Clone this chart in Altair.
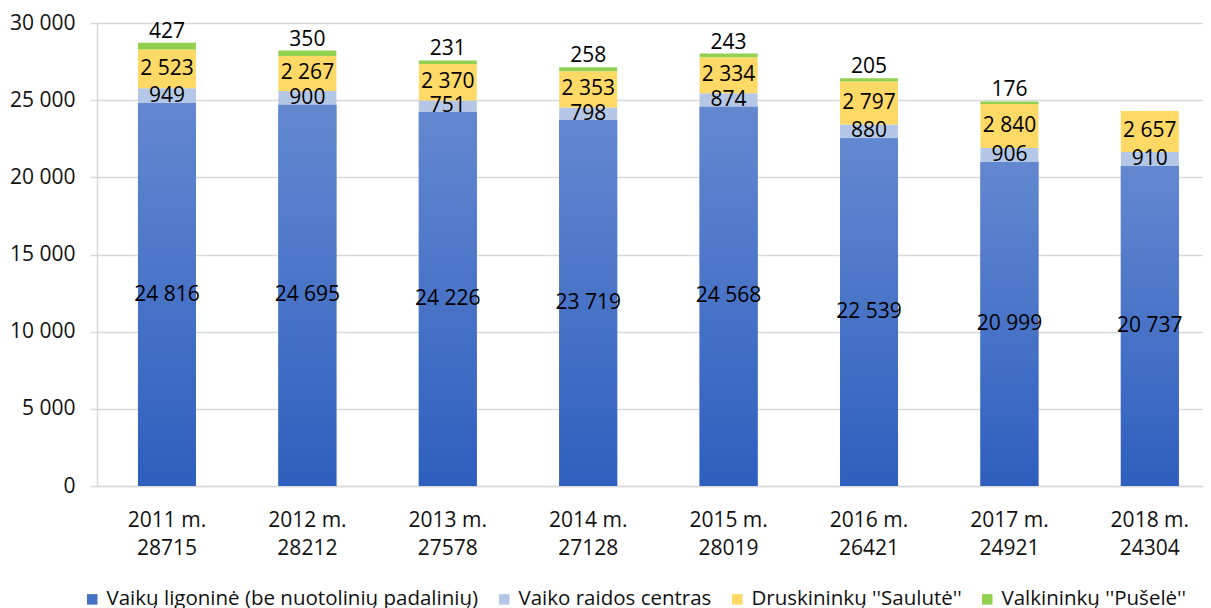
import altair as alt
import pandas as pd

years = ["2011 m.", "2012 m.", "2013 m.", "2014 m.", "2015 m.", "2016 m.", "2017 m.", "2018 m."]
totals = [28715, 28212, 27578, 27128, 28019, 26421, 24921, 24304]
series = [
    "Vaikų ligoninė (be nuotolinių padalinių)",
    "Vaiko raidos centras",
    "Druskininkų ''Saulutė''",
    "Valkininkų ''Pušelė''",
]
ligonine = [24816, 24695, 24226, 23719, 24568, 22539, 20999, 20737]
raidos = [949, 900, 751, 798, 874, 880, 906, 910]
druskininku = [2523, 2267, 2370, 2353, 2334, 2797, 2840, 2657]
valkininku = [427, 350, 231, 258, 243, 205, 176, None]
colors = ["#4472C4", "#B4C7E7", "#FFD966", "#92D050"]

cats = [f"{y}|{t}" for y, t in zip(years, totals)]
rows = []
for i, c in enumerate(cats):
    for k, vals in enumerate([ligonine, raidos, druskininku, valkininku]):
        v = vals[i]
        if v is None:
            continue
        rows.append({"cat": c, "series": series[k], "order": k, "value": v})
df = pd.DataFrame(rows)

FONT = "Open Sans"

x = alt.X(
    "cat:N",
    sort=cats,
    scale=alt.Scale(paddingInner=0.587, paddingOuter=0.232, align=0.629),
    axis=alt.Axis(
        title=None,
        labelAngle=0,
        labelExpr="split(datum.label, '|')",
        labelFont=FONT,
        labelFontSize=21,
        labelColor="#111111",
        labelLineHeight=28,
        labelPadding=23,
        ticks=False,
        grid=False,
        domainColor="#d9d9d9",
        domainWidth=1.5,
    ),
)
y = alt.Y(
    "y0:Q",
    scale=alt.Scale(domain=[0, 30000], nice=False),
    axis=alt.Axis(
        title=None,
        values=[0, 5000, 10000, 15000, 20000, 25000, 30000],
        labelExpr="replace(format(datum.value, ','), ',', ' ')",
        labelFont=FONT,
        labelFontSize=21,
        labelColor="#111111",
        labelPadding=15,
        tickSize=7,
        tickColor="#d9d9d9",
        domainColor="#d9d9d9",
        gridColor="#d9d9d9",
        gridWidth=1.5,
        tickWidth=1.5,
        domainWidth=1.5,
    ),
)

base = alt.Chart(df).transform_stack(
    stack="value", as_=["y0", "y1"], groupby=["cat"],
    sort=[alt.SortField("order", order="ascending")],
).transform_calculate(mid="(datum.y0 + datum.y1) / 2")

bars = base.mark_bar().encode(
    x=x,
    y=y,
    y2="y1:Q",
    color=alt.Color(
        "series:N",
        scale=alt.Scale(domain=series, range=colors),
        legend=alt.Legend(
            title=None,
            orient="none",
            legendX=-15,
            legendY=566,
            direction="horizontal",
            symbolType="square",
            symbolSize=110,
            symbolStrokeWidth=0,
            labelFont=FONT,
            labelFontSize=20.5,
            labelColor="#111111",
            columnPadding=15,
            labelOffset=4,
            labelLimit=600,
        ),
    ),
    order=alt.Order("order:Q"),
)

grad = alt.LinearGradient(
    gradient="linear",
    stops=[alt.GradientStop(offset=0, color="#6388D0"), alt.GradientStop(offset=1, color="#2E5FBE")],
    x1=0, x2=0, y1=0, y2=1,
)
bottom = base.transform_filter("datum.order == 0").mark_bar(color=grad).encode(
    x=x, y=y, y2="y1:Q"
)

inner = base.transform_filter("datum.order < 3").mark_text(
    font=FONT, fontSize=21, color="#000000", baseline="middle"
).encode(
    x=x,
    y=alt.Y("mid:Q"),
    text=alt.Text("label:N"),
).transform_calculate(label="replace(format(datum.value, ','), ',', ' ')")

top = base.transform_filter("datum.order == 3").mark_text(
    font=FONT, fontSize=21, color="#000000", baseline="alphabetic", dy=-5
).encode(
    x=x,
    y=alt.Y("y1:Q"),
    text=alt.Text("label:N"),
).transform_calculate(label="replace(format(datum.value, ','), ',', ' ')")

chart = alt.layer(bars, bottom, inner, top).properties(
    width=1106,
    height=463,
    autosize=alt.AutoSizeParams(type="none"),
    padding={"left": 89, "top": 15, "right": 0, "bottom": 130},
).configure_view(stroke=None)

chart.save("out.html", embed_options={"renderer": "svg", "actions": False})
